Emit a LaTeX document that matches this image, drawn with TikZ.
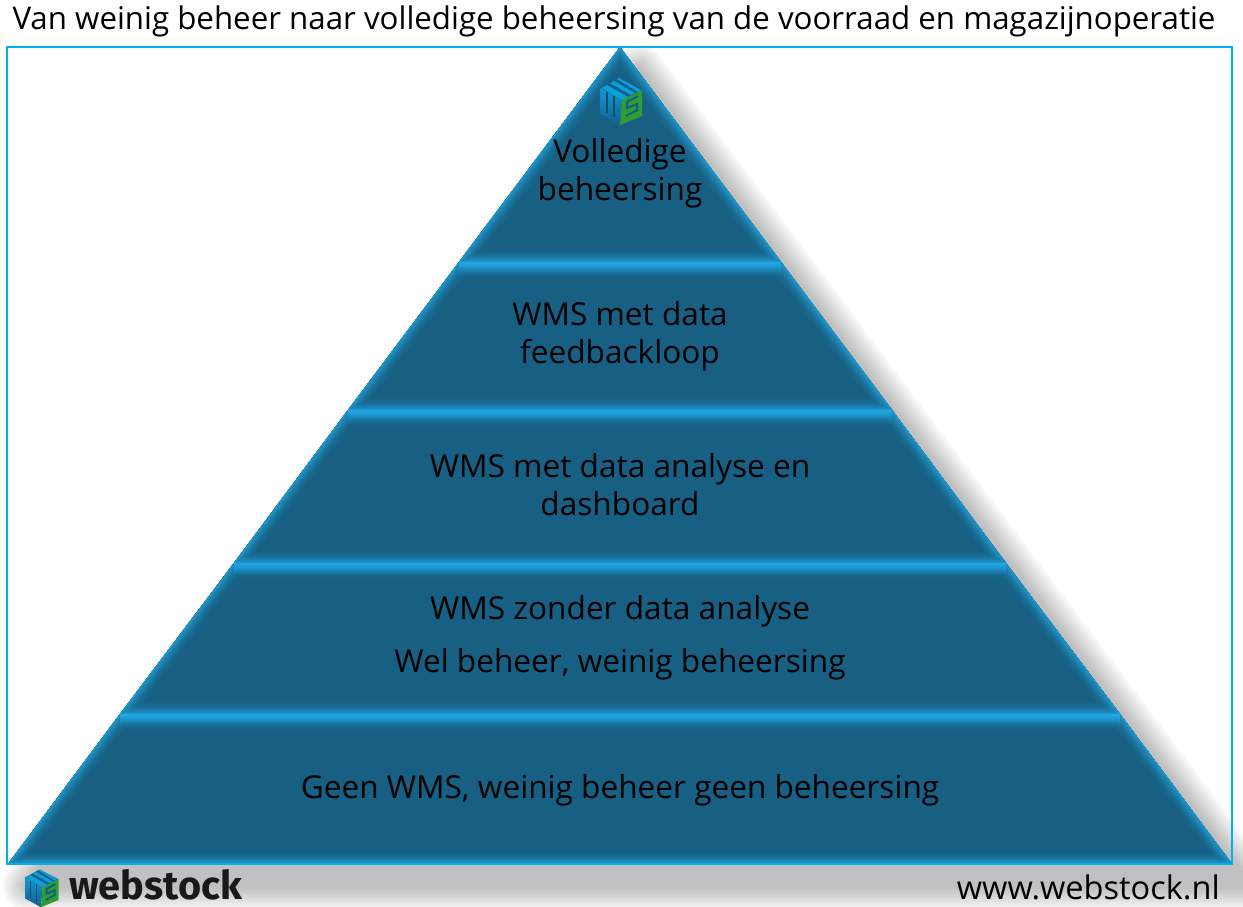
\documentclass[tikz,border=0pt]{standalone}
\usepackage{fontspec}
\setmainfont{Open Sans}
\newfontfamily\logofont{Fira Sans}
\definecolor{framecyan}{HTML}{00B0F0}
\definecolor{slabfill}{HTML}{176083}
\definecolor{slabedge}{HTML}{1E93C8}
\definecolor{slabtop}{HTML}{22ACEC}
\definecolor{cubeblue}{HTML}{125F8E}
\definecolor{cubelight}{HTML}{0F9AD2}
\definecolor{cubetop}{HTML}{0CA0D8}
\definecolor{cubegreen}{HTML}{2E9E30}
\tikzset{
    slabtext/.style={font=\fontsize{23.7}{28.5}\selectfont, align=center, text=black},
    pics/wscube/.style={code={
        \shade[top color=cubelight, bottom color=cubeblue] (-20,-13) -- (2,-1) -- (0,24) -- (-20,13) -- cycle;
        \fill[cubeblue] (-20,-13) -- (-2,-23) -- (22,-11) -- (2,-1) -- cycle;
        \fill[cubetop] (-19,-13) -- (-13,-16) -- (8,-4) -- (2,-1) -- cycle;
        \fill[cubetop] (-10,-18) -- (-6,-20) -- (15,-8) -- (11,-6) -- cycle;
        \fill[cubetop] (-3,-22) -- (-1,-23) -- (21,-11) -- (18,-9) -- cycle;
        \fill[cubegreen] (2,-1) -- (22,-11) -- (22,15) -- (0,24) -- cycle;
        \draw[cubeblue!80!black, line width=0.8pt] (-13,-9) -- (-13,12) (-6,-5) -- (-6,16);
        \draw[cubeblue, line width=1.5pt] (18,-5) -- (7,1) -- (7,7) -- (17,3) -- (17,9) -- (6,15);
    }}
}
% one layer: bevelled all round, brightest along its top edge
\newcommand{\slab}[4]{
    \begin{scope}
        \clip #1 -- #2 -- #3 -- #4 -- cycle;
        \fill[slabfill] #1 -- #2 -- #3 -- #4 -- cycle;
        \foreach \i in {14,13,...,1} {
            \pgfmathsetmacro{\mixval}{100*((15-\i)/14)^2}
            \draw[slabedge!\mixval!slabfill, line width=\i*1.5pt, line join=miter] #1 -- #2 -- #3 -- #4 -- cycle;
        }
        \foreach \i in {20,18,...,2} {
            \pgfmathsetmacro{\mixval}{100*((22-\i)/20)^2}
            \draw[slabtop, opacity=\mixval/250, line width=\i*1.5pt] #1 -- #2;
        }
    \end{scope}
}
\begin{document}
\begin{tikzpicture}[x=0.75pt, y=-0.75pt]

    \useasboundingbox (0, 0) rectangle (1243, 907);

    \coordinate (apex) at (620, 47);
    \coordinate (l1) at (459, 262);
    \coordinate (r1) at (781, 262);
    \coordinate (l2) at (348, 410);
    \coordinate (r2) at (892, 410);
    \coordinate (l3) at (234, 563);
    \coordinate (r3) at (1006, 563);
    \coordinate (l4) at (120, 714);
    \coordinate (r4) at (1120, 714);
    \coordinate (l5) at (8, 864);
    \coordinate (r5) at (1232, 864);

    % shadow
    \begin{scope}
        \clip (0, 0) rectangle (1243, 907);
        \foreach \w in {36, 32, ..., 1} {
            \begin{scope}[transparency group, opacity=0.03]
                \filldraw[black, line width=\w pt, line join=round]
                    ([shift={(19, 22)}]apex) -- ([shift={(19, 22)}]r5) -- ([shift={(19, 22)}]l5) -- cycle;
            \end{scope}
        }
    \end{scope}

    \slab{(apex)}{(apex)}{(r1)}{(l1)}
    \slab{(l1)}{(r1)}{(r2)}{(l2)}
    \slab{(l2)}{(r2)}{(r3)}{(l3)}
    \slab{(l3)}{(r3)}{(r4)}{(l4)}
    \slab{(l4)}{(r4)}{(r5)}{(l5)}

    \draw[framecyan, line width=1.8pt] (7, 47) rectangle (1232, 864);

    \node[font=\fontsize{23.45}{28}\selectfont] (title) at (614, 21) {Van weinig beheer naar volledige beheersing van de voorraad en magazijnoperatie};

    \pic at (620, 101) {wscube};
    \node[slabtext] (top) at (620, 173) {Volledige\\beheersing};
    \node[slabtext] (feedback) at (620, 336) {WMS met data\\feedbackloop};
    \node[slabtext] (dashboard) at (620, 485) {WMS met data analyse en\\dashboard};
    \node[slabtext] (noanalysis) at (620, 638) {WMS zonder data analyse\\[11pt]Wel beheer, weinig beheersing};
    \node[slabtext] (nowms) at (620, 790) {Geen WMS, weinig beheer geen beheersing};

    \pic[scale=0.8] at (41, 888) {wscube};
    \node[font=\logofont\bfseries\fontsize{29.7}{29.7}\selectfont, text=black!90, anchor=west, inner sep=0pt] (brand) at (69, 885) {webstock};
    \node[font=\fontsize{24.4}{28}\selectfont, anchor=east, inner sep=0pt] (url) at (1220, 887) {www.webstock.nl};

\end{tikzpicture}
\end{document}
